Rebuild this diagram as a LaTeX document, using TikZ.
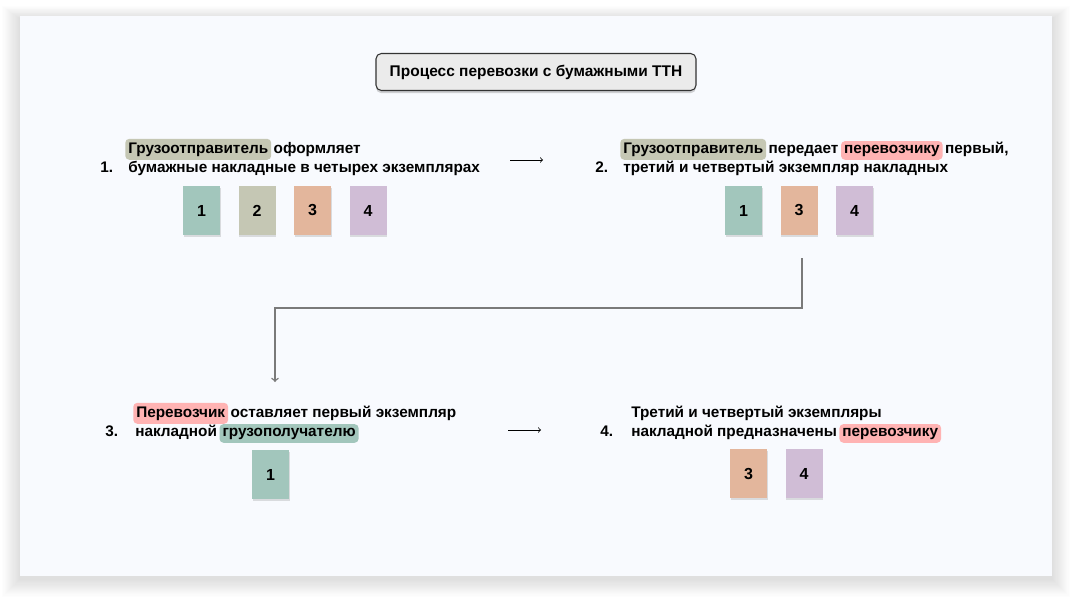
\documentclass[tikz,border=0pt]{standalone}
\usepackage{fontspec}
\setmainfont{Liberation Sans}
\usetikzlibrary{positioning,shadows}

\definecolor{panelbg}{HTML}{F8FAFE}
\definecolor{titlebg}{HTML}{EBEBEB}
\definecolor{docgreen}{HTML}{A2C6BC}
\definecolor{docgrey}{HTML}{C5C7B4}
\definecolor{docorange}{HTML}{E3B69C}
\definecolor{doclilac}{HTML}{D0BDD6}
\definecolor{hlpink}{HTML}{FFB3B3}
\definecolor{linegrey}{HTML}{7A7A7A}

\begin{document}
\begin{tikzpicture}[x=0.75pt,y=-0.75pt,
    txt/.style={inner sep=0pt,anchor=base west,font=\fontsize{11.5}{13}\selectfont\bfseries},
    hl/.style={txt,fill=#1,rounded corners=3pt,inner xsep=2.25pt,inner ysep=2.7pt},
    doc/.style={fill=#1,minimum width=27.75pt,minimum height=36.75pt,inner sep=0pt,
      font=\fontsize{12}{13}\selectfont\bfseries,
      drop shadow={shadow xshift=0.6pt,shadow yshift=-1.8pt,opacity=.25}},
    titlebox/.style={draw=black!80,line width=0.8pt,fill=titlebg,rounded corners=4pt,
      minimum width=240pt,minimum height=27.75pt,
      font=\fontsize{11.6}{13}\selectfont\bfseries,
      drop shadow={shadow xshift=0pt,shadow yshift=-2pt,opacity=.35}},
    flow/.style={->,line width=0.6pt}
  ]
    \useasboundingbox (0,0) rectangle (1072,600);
    \fill[white] (0,0) rectangle (1072,600);
    % soft shadow round the panel
    \foreach \i in {1,...,16}
      \fill[black,opacity=0.006] (20-1.1*\i,16-0.8*\i+3) rectangle (1052+1.1*\i,576+1.1*\i+3);
    \fill[panelbg] (20,16) rectangle (1052,576);

    \node[titlebox] (title) at (536,72) {Процесс перевозки с бумажными ТТН};

    % step 1
    \node[txt] (n1) at (100,172) {1.};
    \node[hl=docgrey] (s1a) at (125,153) {Грузоотправитель};
    \node[txt,base right=1.5pt of s1a] (s1b) {оформляет};
    \node[txt] (s1c) at (128,172) {бумажные накладные в четырех экземплярах};
    \node[doc=docgreen] (d11) at (201.5,210.5) {1};
    \node[doc=docgrey,right=13.5pt of d11] (d12) {2};
    \node[doc=docorange,right=13.5pt of d12] (d13) {3};
    \node[doc=doclilac,right=13.5pt of d13] (d14) {4};

    % step 2
    \node[txt] (n2) at (595,172) {2.};
    \node[hl=docgrey] (s2a) at (620,153) {Грузоотправитель};
    \node[txt,base right=1.5pt of s2a] (s2b) {передает};
    \node[hl=hlpink,base right=1.5pt of s2b] (s2c) {перевозчику};
    \node[txt,base right=1.5pt of s2c] (s2d) {первый,};
    \node[txt] (s2e) at (623,172) {третий и четвертый экземпляр накладных};
    \node[doc=docgreen] (d21) at (743.5,210.5) {1};
    \node[doc=docorange,right=13.5pt of d21] (d23) {3};
    \node[doc=doclilac,right=13.5pt of d23] (d24) {4};

    % step 3
    \node[txt] (n3) at (105,436) {3.};
    \node[hl=hlpink] (s3a) at (133,417) {Перевозчик};
    \node[txt,base right=1.5pt of s3a] (s3b) {оставляет первый экземпляр};
    \node[txt] (s3c) at (135,436) {накладной};
    \node[hl=docgreen,base right=1.5pt of s3c] (s3d) {грузополучателю};
    \node[doc=docgreen] (d31) at (270.5,474.5) {1};

    % step 4
    \node[txt] (n4) at (600,436) {4.};
    \node[txt] (s4a) at (631,417) {Третий и четвертый экземпляры};
    \node[txt] (s4b) at (631,436) {накладной предназначены};
    \node[hl=hlpink,base right=1.5pt of s4b] (s4c) {перевозчику};
    \node[doc=docorange] (d43) at (748.5,473.5) {3};
    \node[doc=doclilac,right=13.5pt of d43] (d44) {4};

    % arrows
    \coordinate (a12s) at (510,160);
    \coordinate (a12e) at (543,160);
    \draw[flow] (a12s) -- (a12e);
    \coordinate (a23s) at (802,258);
    \coordinate (a23e) at (275,382);
    \draw[flow,linegrey,line width=1.1pt] (a23s) -- ++(0,50) -| (a23e);
    \coordinate (a34s) at (508,430);
    \coordinate (a34e) at (541,430);
    \draw[flow] (a34s) -- (a34e);
\end{tikzpicture}
\end{document}
